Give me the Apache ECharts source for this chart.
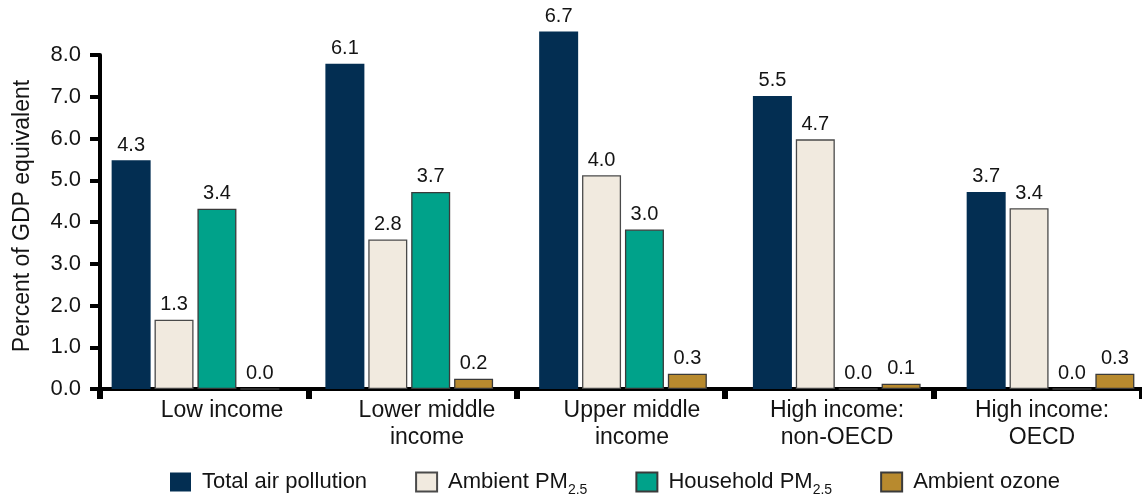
<!DOCTYPE html>
<html>
<head>
<meta charset="utf-8">
<script src="https://cdn.jsdelivr.net/npm/echarts@6/dist/echarts.min.js"></script>
<style>
  html, body { margin: 0; padding: 0; background: #fff; }
  #chart { width: 1142px; height: 498px; }
</style>
</head>
<body>
<div id="chart"></div>
<script>
// income groups
var categories = ['Low income', 'Lower middle\nincome', 'Upper middle\nincome', 'High income:\nnon-OECD', 'High income:\nOECD'];
var yTicks = [0, 1, 2, 3, 4, 5, 6, 7, 8];

// bar heights as drawn in the picture
var totalHeight = [5.48, 7.79, 8.56, 7.02, 4.72];
var ambientHeight = [1.66, 3.58, 5.12, 5.98, 4.33];
var householdHeight = [4.32, 4.72, 3.82, 0, 0];
var ozoneHeight = [0, 0.245, 0.365, 0.125, 0.365];

// values printed on top of the bars
var totalLabel = [4.3, 6.1, 6.7, 5.5, 3.7];
var ambientLabel = [1.3, 2.8, 4.0, 4.7, 3.4];
var householdLabel = [3.4, 3.7, 3.0, 0.0, 0.0];
var ozoneLabel = [0.0, 0.2, 0.3, 0.1, 0.3];

var FONT = '"Liberation Sans", Arial, sans-serif';
var TXT = '#141414';
var TOP = 55, BOTTOM = 109;

function barSeries(name, heights, labels, color, border) {
  return {
    name: name,
    type: 'bar',
    xAxisIndex: 1,
    yAxisIndex: 1,
    data: heights,
    barWidth: 39,
    barGap: '10%',
    clip: false,
    itemStyle: {
      color: color,
      borderColor: border || color,
      borderWidth: border ? 1.3 : 0
    },
    label: {
      show: true,
      position: 'top',
      distance: 5,
      color: TXT,
      fontFamily: FONT,
      fontSize: 20,
      formatter: function (p) { return labels[p.dataIndex].toFixed(1); }
    }
  };
}

var chart = echarts.init(document.getElementById('chart'), null, { renderer: 'canvas' });

var hiddenY = {
  type: 'value', min: 0, max: 8, interval: 1, show: false
};

var option = {
  animation: false,
  backgroundColor: '#fff',
  grid: [
    // visible axes
    { left: 100, right: 0, top: TOP, bottom: BOTTOM, outerBoundsMode: 'none' },
    // bars (slightly wider pitch than the axis ticks, as in the source)
    { left: 88.6, right: -15.4, top: TOP, bottom: BOTTOM, outerBoundsMode: 'none' },
    // category labels
    { left: 119.5, right: -2.5, top: TOP, bottom: BOTTOM, outerBoundsMode: 'none' }
  ],
  legend: {
    left: 170,
    top: 467,
    padding: 0,
    icon: 'rect',
    itemWidth: 21,
    itemHeight: 19,
    itemGap: 48,
    data: ['Total air pollution', 'Ambient PM2.5', 'Household PM2.5', 'Ambient ozone'],
    formatter: function (name) { return name.replace('PM2.5', 'PM{sub|2.5}'); },
    textStyle: {
      fontFamily: FONT,
      fontSize: 22,
      lineHeight: 30,
      color: TXT,
      padding: [0, 0, 0, 6],
      rich: {
        sub: { fontFamily: FONT, fontSize: 14, lineHeight: 10, color: TXT, verticalAlign: 'bottom' }
      }
    }
  },
  xAxis: [
    {
      gridIndex: 0,
      type: 'category',
      data: categories,
      axisLine: { lineStyle: { color: '#000', width: 4 } },
      axisTick: { show: true, length: 10, lineStyle: { color: '#000', width: 6 } },
      axisLabel: { show: false }
    },
    {
      gridIndex: 1,
      type: 'category',
      data: categories,
      show: false
    },
    {
      gridIndex: 2,
      type: 'category',
      data: categories,
      axisLine: { show: false },
      axisTick: { show: false },
      axisLabel: {
        margin: 8,
        fontFamily: FONT,
        fontSize: 23,
        lineHeight: 27,
        color: TXT,
        interval: 0
      }
    }
  ],
  yAxis: [
    {
      gridIndex: 0,
      type: 'value',
      min: yTicks[0],
      max: yTicks[yTicks.length - 1],
      interval: 1,
      name: 'Percent of GDP equivalent',
      nameLocation: 'middle',
      nameGap: 66,
      nameTextStyle: { fontFamily: FONT, fontSize: 23, color: TXT, padding: [0, 0, 0, 12] },
      axisLine: { show: true, lineStyle: { color: '#000', width: 4 } },
      axisTick: { show: true, length: 10, lineStyle: { color: '#000', width: 4 } },
      splitLine: { show: false },
      axisLabel: {
        margin: 19,
        fontFamily: FONT,
        fontSize: 22,
        color: TXT,
        formatter: function (v) { return v.toFixed(1); }
      }
    },
    Object.assign({ gridIndex: 1 }, hiddenY),
    Object.assign({ gridIndex: 2 }, hiddenY)
  ],
  series: [
    barSeries('Total air pollution', totalHeight, totalLabel, '#032e52', null),
    barSeries('Ambient PM2.5', ambientHeight, ambientLabel, '#f1eadf', '#4a4a4a'),
    barSeries('Household PM2.5', householdHeight, householdLabel, '#00a28a', '#3a3a3a'),
    barSeries('Ambient ozone', ozoneHeight, ozoneLabel, '#b88a2e', '#3a3a3a')
  ]
};

chart.setOption(option);
</script>
</body>
</html>
